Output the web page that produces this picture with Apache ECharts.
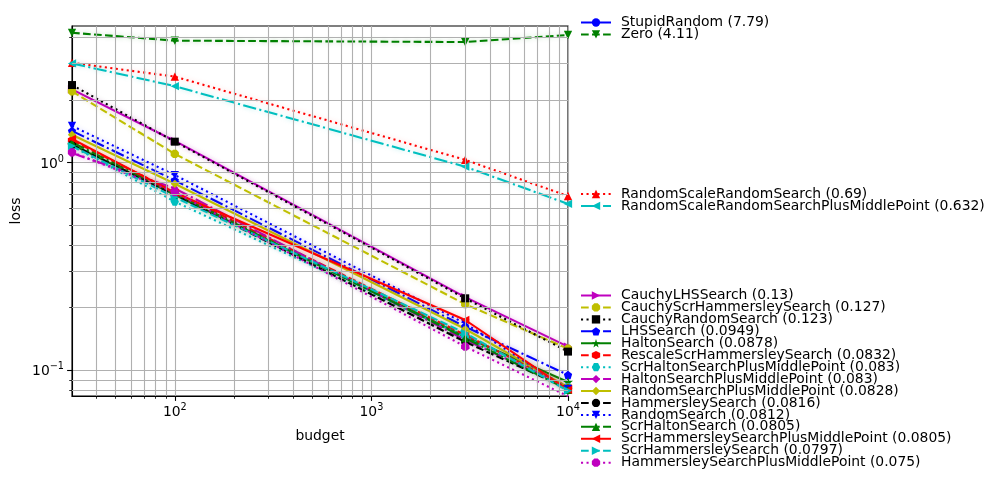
<!DOCTYPE html>
<html><head><meta charset="utf-8">
<script src="https://cdn.jsdelivr.net/npm/echarts@6/dist/echarts.min.js"></script>
<style>html,body{margin:0;padding:0;background:#fff}#c{width:1000px;height:486px}</style>
</head><body><div id="c"></div>
<script>
// ---- data ----
const budgets = [30, 100, 3000, 10000];
const xMajorTicks = [100, 1000, 10000];
const yMajorTicks = [0.1, 1];

const stupidRandom = [9.8, 9.1, 8.0, 7.79];
const zero = [4.21, 3.86, 3.80, 4.11];
const randomScaleRandomSearch = [3.02, 2.59, 1.03, 0.69];
const randomScaleRandomSearchPlusMiddlePoint = [3.0, 2.33, 0.955, 0.632];
const cauchyLHSSearch = [2.25, 1.27, 0.225, 0.13];
const cauchyScrHammersleySearch = [2.2, 1.1, 0.208, 0.127];
const cauchyRandomSearch = [2.36, 1.26, 0.222, 0.123];
const lhsSearch = [1.42, 0.82, 0.162, 0.0949];
const haltonSearch = [1.22, 0.70, 0.145, 0.0878];
const rescaleScrHammersleySearch = [1.28, 0.72, 0.148, 0.0832];
const scrHaltonSearchPlusMiddlePoint = [1.2, 0.648, 0.145, 0.083];
const haltonSearchPlusMiddlePoint = [1.11, 0.751, 0.14, 0.083];
const randomSearchPlusMiddlePoint = [1.36, 0.79, 0.158, 0.0828];
const hammersleySearch = [1.22, 0.70, 0.137, 0.0816];
const randomSearch = [1.5, 0.87, 0.168, 0.0812];
const scrHaltonSearch = [1.25, 0.71, 0.143, 0.0805];
const scrHammersleySearchPlusMiddlePoint = [1.3, 0.715, 0.1746, 0.0805];
const scrHammersleySearch = [1.2, 0.68, 0.151, 0.0797];
const hammersleySearchPlusMiddlePoint = [1.12, 0.72, 0.130, 0.075];

const seriesNames = [
  'StupidRandom (7.79)', 'Zero (4.11)',
  'RandomScaleRandomSearch (0.69)', 'RandomScaleRandomSearchPlusMiddlePoint (0.632)',
  'CauchyLHSSearch (0.13)', 'CauchyScrHammersleySearch (0.127)', 'CauchyRandomSearch (0.123)',
  'LHSSearch (0.0949)', 'HaltonSearch (0.0878)', 'RescaleScrHammersleySearch (0.0832)',
  'ScrHaltonSearchPlusMiddlePoint (0.083)', 'HaltonSearchPlusMiddlePoint (0.083)',
  'RandomSearchPlusMiddlePoint (0.0828)', 'HammersleySearch (0.0816)', 'RandomSearch (0.0812)',
  'ScrHaltonSearch (0.0805)', 'ScrHammersleySearchPlusMiddlePoint (0.0805)',
  'ScrHammersleySearch (0.0797)', 'HammersleySearchPlusMiddlePoint (0.075)'
];
const seriesValues = [
  stupidRandom, zero, randomScaleRandomSearch, randomScaleRandomSearchPlusMiddlePoint,
  cauchyLHSSearch, cauchyScrHammersleySearch, cauchyRandomSearch, lhsSearch, haltonSearch,
  rescaleScrHammersleySearch, scrHaltonSearchPlusMiddlePoint, haltonSearchPlusMiddlePoint,
  randomSearchPlusMiddlePoint, hammersleySearch, randomSearch, scrHaltonSearch,
  scrHammersleySearchPlusMiddlePoint, scrHammersleySearch, hammersleySearchPlusMiddlePoint
];

// ---- styles ----
const colors = ['#0000ff', '#008000', '#ff0000', '#00bfbf', '#bf00bf', '#bfbf00', '#000000'];
const halo = ['rgba(0,0,255,0.28)', 'rgba(0,128,0,0.28)', 'rgba(255,0,0,0.28)', 'rgba(0,191,191,0.28)', 'rgba(191,0,191,0.28)', 'rgba(191,191,0,0.28)', 'rgba(0,0,0,0.22)'];
const dashes = ['solid', [7.7, 3.33], [2.08, 3.44], [13.3, 3.33, 2.08, 3.33]];
const markerPaths = {
  'o': 'circle',
  'v': 'path://M0,0L10,0L5,10Z',
  '^': 'path://M5,0L10,10L0,10Z',
  '<': 'path://M0,5L10,0L10,10Z',
  '>': 'path://M10,5L0,0L0,10Z',
  '8': 'path://M9.62,6.91L6.91,9.62L3.09,9.62L0.38,6.91L0.38,3.09L3.09,0.38L6.91,0.38L9.62,3.09Z',
  's': 'rect',
  'p': 'path://M5,0L9.76,3.45L7.94,9.05L2.06,9.05L0.24,3.45Z',
  '*': 'path://M5,0L6.18,3.38L9.76,3.45L6.90,5.62L7.94,9.05L5,7L2.06,9.05L3.10,5.62L0.24,3.45L3.82,3.38Z',
  'h': 'path://M5,0L9.33,2.5L9.33,7.5L5,10L0.67,7.5L0.67,2.5Z',
  'H': 'path://M10,5L7.5,9.33L2.5,9.33L0,5L2.5,0.67L7.5,0.67Z',
  'D': 'path://M5,0L10,5L5,10L0,5Z',
  'd': 'path://M5,0L8,5L5,10L2,5Z'
};
const markerOrder = ['o', 'v', '^', '<', '>', '8', 's', 'p', '*', 'h', 'H', 'D', 'd'];
const markerSizes = {'o': 8.3, 'v': 8.3, '^': 8.3, '<': 8.3, '>': 8.3, '8': 8.3, 's': 8, 'p': 8.3, '*': 10, 'h': 8.3, 'H': 8.3, 'D': 7.5, 'd': 8.3};

const xMinor = [], yMinor = [];
[10, 100, 1000].forEach(d => { for (let k = 2; k <= 9; k++) { const v = k * d; if (v > 30 && v < 10000) xMinor.push(v); } });
[0.01, 0.1, 1].forEach(d => { for (let k = 2; k <= 9; k++) { const v = +(k * d).toFixed(4); if (v > 0.0752 && v < 4.54) yMinor.push(v); } });

const FONT = 'DejaVu Sans';
const gridColor = '#b0b0b0';
const X_MIN = 30, X_MAX = 10000, Y_MIN = 0.0752, Y_MAX = 4.54;

function powLabel(v) {
  const e = Math.log10(v);
  const r = Math.round(e);
  if (Math.abs(e - r) > 1e-6) return '';
  return '{b|10}{sup|' + (r < 0 ? '\u2212' + (-r) : r) + '}';
}
const richPow = {
  b: {fontSize: 13.9, fontFamily: FONT, color: '#000', lineHeight: 17, verticalAlign: 'bottom'},
  sup: {fontSize: 9.7, fontFamily: FONT, color: '#000', lineHeight: 10, verticalAlign: 'top'}
};

const series = [{
  type: 'line', data: [], z: 1, silent: true, symbol: 'none',
  markLine: {
    silent: true, symbol: ['none', 'none'], label: {show: false}, animation: false,
    lineStyle: {color: gridColor, width: 1.1, type: 'solid'},
    emphasis: {disabled: true},
    data: xMinor.map(v => ({xAxis: v})).concat(yMinor.map(v => ({yAxis: v})))
  }
}];
seriesNames.forEach((name, i) => {
  const m = markerOrder[i % markerOrder.length];
  const ci = i % colors.length;
  series.push({
    type: 'line', name: name, z: 3, xAxisIndex: 0, yAxisIndex: 0,
    data: budgets.map((b, j) => [b, seriesValues[i][j]]),
    symbol: markerPaths[m], symbolSize: markerSizes[m], showSymbol: true,
    clip: true,
    lineStyle: {color: colors[ci], width: 2.08, type: dashes[i % dashes.length], shadowColor: halo[ci], shadowBlur: 5},
    itemStyle: {color: colors[ci], borderWidth: 0},
    emphasis: {disabled: true}
  });
});

const legendBase = {
  orient: 'vertical', left: 580, itemWidth: 30, itemHeight: 10.4, itemGap: -2.06,
  padding: 0, selectedMode: false,
  lineStyle: {shadowBlur: 0, shadowColor: 'transparent'},
  textStyle: {fontFamily: FONT, fontSize: 13.9, color: '#000', padding: [0, 0, 0, 5]}
};

const axisCommon = {
  axisLine: {show: true, lineStyle: {color: '#000', width: 1.1}},
  nameTextStyle: {fontFamily: FONT, fontSize: 13.9, color: '#000'},
  minorTick: {show: false}, minorSplitLine: {show: false}
};

const option = {
  animation: false,
  backgroundColor: '#fff',
  grid: {left: 72, top: 26, width: 496, height: 370, show: true, borderColor: '#000', borderWidth: 1.1, backgroundColor: 'transparent'},
  xAxis: [
    Object.assign({}, axisCommon, {
      type: 'log', logBase: 10, min: X_MIN, max: X_MAX, position: 'bottom',
      name: 'budget', nameLocation: 'middle', nameGap: 33,
      axisTick: {show: true, inside: false, length: 4.9, lineStyle: {color: '#000', width: 1.1}, customValues: xMajorTicks},
      axisLabel: {formatter: powLabel, rich: richPow, margin: 6, hideOverlap: false, customValues: xMajorTicks},
      splitLine: {show: true, lineStyle: {color: gridColor, width: 1.1}}
    }),
    {
      type: 'log', logBase: 10, min: X_MIN, max: X_MAX, position: 'bottom', offset: 0,
      axisLine: {show: false},
      axisTick: {show: true, inside: false, length: 2.8, lineStyle: {color: '#000', width: 0.8}, customValues: xMinor},
      axisLabel: {show: false},
      splitLine: {show: false}, minorTick: {show: false}
    }
  ],
  yAxis: [
    Object.assign({}, axisCommon, {
      type: 'log', logBase: 10, min: Y_MIN, max: Y_MAX, position: 'left',
      name: 'loss', nameLocation: 'middle', nameGap: 49, nameRotate: 90,
      axisTick: {show: true, inside: false, length: 4.9, lineStyle: {color: '#000', width: 1.1}, customValues: yMajorTicks},
      axisLabel: {formatter: powLabel, rich: richPow, margin: 8, hideOverlap: false, customValues: yMajorTicks},
      splitLine: {show: true, lineStyle: {color: gridColor, width: 1.1}}
    }),
    {
      type: 'log', logBase: 10, min: Y_MIN, max: Y_MAX, position: 'left', offset: 0,
      axisLine: {show: false},
      axisTick: {show: true, inside: false, length: 2.8, lineStyle: {color: '#000', width: 0.8}, customValues: yMinor},
      axisLabel: {show: false},
      splitLine: {show: false}, minorTick: {show: false}
    }
  ],
  legend: [
    Object.assign({}, legendBase, {top: 15.5, data: seriesNames.slice(0, 2)}),
    Object.assign({}, legendBase, {top: 187, data: seriesNames.slice(2, 4)}),
    Object.assign({}, legendBase, {top: 288.5, data: seriesNames.slice(4)})
  ],
  series: series
};

const chart = echarts.init(document.getElementById('c'), null, {renderer: 'canvas'});
chart.setOption(option);
</script>
</body></html>
